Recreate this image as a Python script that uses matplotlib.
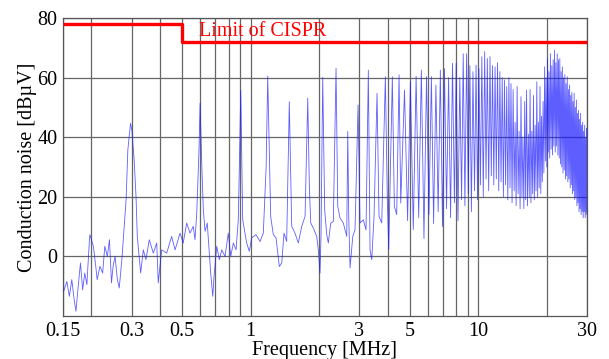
import numpy as np
import matplotlib.pyplot as plt
from matplotlib.ticker import FixedLocator, LogLocator, NullFormatter

plt.rcParams['font.family'] = ['Liberation Serif', 'DejaVu Serif']

# Measured trace below ~4.6 MHz, read point by point (MHz, dBuV).
low_f = [0.151, 0.156, 0.160, 0.164, 0.168, 0.171, 0.175, 0.179, 0.183, 0.187,
         0.191, 0.196, 0.197, 0.204, 0.209, 0.212, 0.218, 0.224, 0.229, 0.235,
         0.240, 0.245, 0.249, 0.254, 0.260, 0.265, 0.272, 0.278, 0.284, 0.289,
         0.297, 0.301, 0.308, 0.314, 0.318, 0.324, 0.329, 0.338, 0.347, 0.359,
         0.374, 0.387, 0.393, 0.407, 0.428, 0.450, 0.466, 0.490, 0.506, 0.524,
         0.542, 0.560, 0.570, 0.580, 0.593, 0.600, 0.612, 0.620, 0.631, 0.645,
         0.659, 0.668, 0.682, 0.691, 0.710, 0.729, 0.747, 0.772, 0.798, 0.818,
         0.840, 0.863, 0.883, 0.895, 0.905, 0.923, 0.961, 0.987, 1.011, 1.056,
         1.100, 1.137, 1.170, 1.189, 1.225, 1.258, 1.293, 1.337, 1.370, 1.402,
         1.440, 1.479, 1.515, 1.566, 1.620, 1.677, 1.734, 1.782, 1.811, 1.837,
         1.885, 1.951, 1.983, 2.017, 2.038, 2.073, 2.115, 2.159, 2.194, 2.248,
         2.308, 2.372, 2.413, 2.469, 2.553, 2.643, 2.670, 2.697, 2.733, 2.809,
         2.874, 2.963, 3.023, 3.126, 3.212, 3.288, 3.345, 3.403, 3.483, 3.590,
         3.663, 3.765, 3.905, 3.984, 4.041, 4.191, 4.277, 4.380, 4.485, 4.563]
low_db = [-11.7, -8.4, -13.4, -7.8, -14.5, -18.4, -10.0, -2.2, -11.2, -5.6,
          -9.5, 5.6, 7.3, 3.4, -3.4, -7.8, -3.3, -5.6, 3.4, 0.0,
          5.6, -8.9, -3.3, 0.0, -7.8, -10.6, -1.1, 9.0, 19.0, 35.7,
          44.7, 42.4, 32.4, 20.0, 6.7, 0.0, -5.6, 2.2, -1.1, 5.6,
          1.1, 4.5, -8.9, 2.2, 1.1, 6.7, 2.2, 7.8, 4.5, 11.2,
          7.8, 10.1, 5.6, 14.5, 35.0, 51.4, 27.9, 15.6, 8.4, 11.2,
          1.1, -5.6, -13.4, -6.7, 3.4, -1.1, 2.2, 0.0, 7.8, 0.0,
          4.5, 2.2, 12.3, 35.0, 55.8, 12.3, 4.5, 1.7, 6.2, 7.3,
          5.0, 7.8, 30.0, 60.5, 13.4, 7.3, 6.2, -3.4, -2.2, 7.8,
          5.0, 51.9, 10.1, 7.8, 4.5, 10.1, 13.4, 53.1, 23.4, 11.2,
          9.5, 6.7, 2.2, -5.6, 6.7, 60.1, 15.6, 7.3, 4.5, 11.2,
          11.7, 63.1, 16.8, 12.9, 11.2, 6.7, 41.9, 13.4, -3.9, 6.7,
          8.9, 50.8, 11.2, 12.3, 8.9, 62.5, 2.2, -1.1, 13.4, 54.7,
          13.4, 11.2, 60.3, 19.0, 2.2, 60.3, 16.8, 14.0, 60.9, 17.9]

# Harmonic spikes above 4.6 MHz: peak position/level and the valley after it.
harm_f = [4.74, 5.03, 5.33, 5.62, 5.92, 6.22, 6.51, 6.81, 7.10, 7.40,
          7.70, 7.99, 8.29, 8.58, 8.88, 9.18, 9.47, 9.77, 10.06, 10.36,
          10.66, 10.95, 11.25, 11.54, 11.84, 12.14, 12.43, 12.73, 13.02, 13.32,
          13.62, 13.91, 14.21, 14.50, 14.80, 15.10, 15.39, 15.69, 15.98, 16.28,
          16.58, 16.87, 17.17, 17.46, 17.76, 18.06, 18.35, 18.65, 18.94, 19.24,
          19.54, 19.83, 20.13, 20.42, 20.72, 21.02, 21.31, 21.61, 21.90, 22.20,
          22.50, 22.79, 23.09, 23.38, 23.68, 23.98, 24.27, 24.57, 24.86, 25.16,
          25.46, 25.75, 26.05, 26.34, 26.64, 26.94, 27.23, 27.53, 27.82, 28.12,
          28.42, 28.71, 29.01, 29.30, 29.60, 29.90]
harm_db = [55.8, 58.6, 60.5, 62.5, 60.3, 60.3, 57.5, 62.5, 63.0, 60.0,
           64.8, 64.8, 60.0, 68.0, 68.0, 64.0, 62.0, 64.2, 63.0, 67.0,
           68.7, 66.4, 67.0, 64.0, 63.6, 65.0, 62.0, 60.0, 59.2, 57.0,
           60.0, 58.0, 56.0, 45.0, 57.0, 42.0, 53.6, 40.0, 52.0, 55.8,
           41.0, 56.0, 42.0, 54.0, 44.0, 58.6, 45.0, 57.0, 47.0, 52.0,
           63.6, 60.0, 66.4, 62.0, 68.0, 64.0, 66.0, 69.2, 65.0, 68.0,
           66.0, 66.4, 62.0, 63.6, 60.0, 61.0, 58.0, 60.3, 56.0, 57.5,
           54.0, 55.0, 52.0, 54.7, 50.0, 52.5, 48.0, 49.0, 46.0, 48.0,
           44.0, 45.0, 42.0, 44.0, 40.0, 43.0]
dip_f = [4.89, 5.18, 5.47, 5.77, 6.07, 6.36, 6.66, 6.96, 7.25, 7.55,
         7.85, 8.14, 8.44, 8.73, 9.03, 9.32, 9.62, 9.92, 10.21, 10.51,
         10.81, 11.10, 11.40, 11.69, 11.99, 12.29, 12.58, 12.88, 13.17, 13.47,
         13.77, 14.06, 14.36, 14.65, 14.95, 15.25, 15.54, 15.84, 16.13, 16.43,
         16.73, 17.02, 17.32, 17.61, 17.91, 18.21, 18.50, 18.80, 19.09, 19.39,
         19.69, 19.98, 20.28, 20.57, 20.87, 21.17, 21.46, 21.76, 22.05, 22.35,
         22.65, 22.94, 23.24, 23.53, 23.83, 24.13, 24.42, 24.72, 25.01, 25.31,
         25.61, 25.90, 26.20, 26.49, 26.79, 27.09, 27.38, 27.68, 27.97, 28.27,
         28.57, 28.86, 29.16, 29.45, 29.75, 30.00]
dip_db = [12, 9, 13, 6, 14, 11, 15, 10, 16, 13,
          18, 12, 19, 17, 21, 15, 22, 19, 24, 20,
          26, 22, 27, 24, 26, 22, 25, 20, 24, 19,
          23, 18, 22, 17, 21, 16, 20, 16, 19, 17,
          20, 18, 21, 19, 22, 20, 23, 21, 25, 28,
          32, 30, 35, 33, 36, 34, 37, 35, 37, 34,
          33, 31, 30, 28, 29, 26, 27, 25, 26, 23,
          24, 21, 22, 19, 20, 17, 18, 15, 16, 14,
          15, 13, 15, 13, 14, 15]

# CISPR limit (step at 0.5 MHz)
limit_f = [0.15, 0.5, 0.5, 30]
limit_db = [78, 78, 72, 72]

xticks = [0.15, 0.3, 0.5, 1, 3, 5, 10, 30]
xtick_labels = ['0.15', '0.3', '0.5', '1', '3', '5', '10', '30']
yticks = [0, 20, 40, 60, 80]


# stitch spikes into one zigzag trace after the low-frequency part
hi_f = np.column_stack([harm_f, dip_f]).ravel()
hi_db = np.column_stack([harm_db, dip_db]).ravel()
f = np.concatenate([low_f, hi_f])
db = np.concatenate([low_db, hi_db])

fig = plt.figure(figsize=(6.09, 3.59), dpi=100)
ax = fig.add_axes([0.1034, 0.1198, 0.8605, 0.8301])

ax.plot(f, db, color='#1a1aff', lw=0.6, alpha=0.7, zorder=3)
ax.plot(limit_f, limit_db, color='red', lw=2.4, zorder=4,
        solid_capstyle='butt', clip_on=False)
ax.text(0.595, 74, 'Limit of CISPR', color='red', fontsize=14.5, va='baseline')

ax.set_xscale('log')
ax.set_xlim(0.15, 30)
ax.set_ylim(-20, 80)

ax.xaxis.set_major_locator(FixedLocator(xticks))
ax.set_xticklabels(xtick_labels)
ax.xaxis.set_minor_locator(LogLocator(subs='all'))
ax.xaxis.set_minor_formatter(NullFormatter())
ax.set_yticks(yticks)

ax.grid(True, which='both', axis='x', color='#666666', lw=0.9)
ax.grid(True, which='major', axis='y', color='#666666', lw=0.9)
ax.set_axisbelow(True)
ax.tick_params(which='both', length=0, labelsize=14.5, pad=4)

for s in ax.spines.values():
    s.set_color('#555555')
    s.set_linewidth(0.9)

ax.set_xlabel('Frequency [MHz]', fontsize=14.5, labelpad=0)
ax.set_ylabel('Conduction noise [dBµV]', fontsize=14.5, labelpad=0)

fig.savefig('out.png', dpi=100)
